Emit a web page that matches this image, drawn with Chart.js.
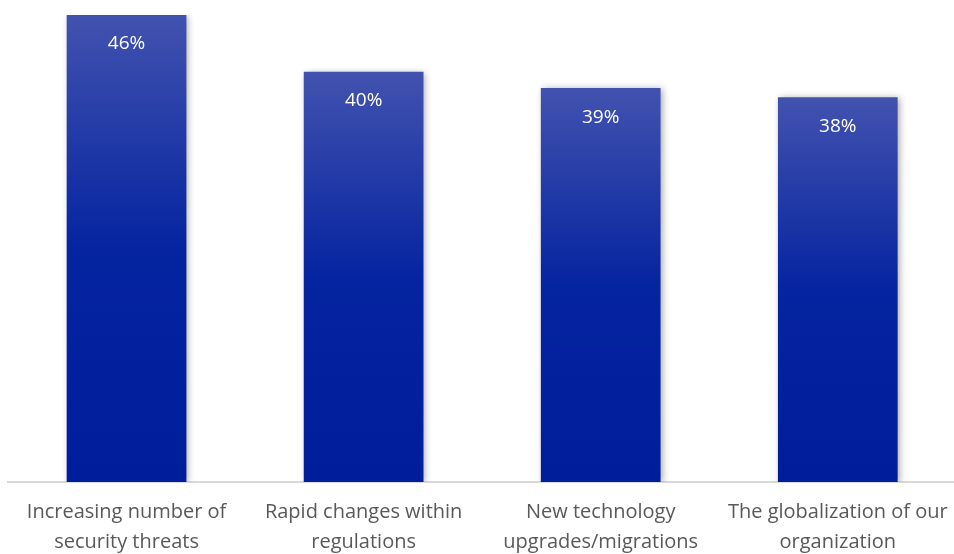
<!DOCTYPE html>
<html>
<head>
<meta charset="utf-8">
<script src="https://cdn.jsdelivr.net/npm/chart.js@4/dist/chart.umd.min.js"></script>
<style>
  html, body { margin: 0; padding: 0; background: #fff; overflow: hidden; }
  .wrap { width: 963px; height: 572px; }
</style>
</head>
<body>
<div class="wrap"><canvas id="chart"></canvas></div>
<script>
const categories = [
  ["Increasing number of", "security threats"],
  ["Rapid changes within", "regulations"],
  ["New technology", "upgrades/migrations"],
  ["The globalization of our", "organization"]
];
const values = [46, 40.4, 38.8, 37.9];
const valueLabels = ["46%", "40%", "39%", "38%"];

// gradient per bar, lighter at the top
function barGradient(context) {
  const chart = context.chart;
  const y = chart.scales.y;
  if (!y || !chart.chartArea) return "#0a22a0";
  const top = y.getPixelForValue(values[context.dataIndex]);
  const bottom = y.getPixelForValue(0);
  const g = chart.ctx.createLinearGradient(0, top, 0, bottom);
  g.addColorStop(0, "#4252af");
  g.addColorStop(0.5, "#0524a0");
  g.addColorStop(1, "#001d9b");
  return g;
}

const barShadow = {
  id: "barShadow",
  beforeDatasetsDraw(chart) {
    const ctx = chart.ctx;
    ctx.save();
    ctx.shadowColor = "rgba(0,0,0,0.35)";
    ctx.shadowBlur = 7;
    ctx.shadowOffsetX = 2;
    ctx.shadowOffsetY = 1;
  },
  afterDatasetsDraw(chart) {
    chart.ctx.restore();
    const ctx = chart.ctx;
    const meta = chart.getDatasetMeta(0);
    ctx.save();
    ctx.fillStyle = "#ffffff";
    ctx.font = "19px 'Open Sans', sans-serif";
    ctx.textAlign = "center";
    ctx.textBaseline = "middle";
    meta.data.forEach((bar, i) => {
      ctx.fillText(valueLabels[i], bar.x, bar.y + 29);
    });
    ctx.restore();
  }
};

new Chart(document.getElementById("chart"), {
  type: "bar",
  data: {
    labels: categories,
    datasets: [{
      data: values,
      backgroundColor: barGradient,
      borderWidth: 0,
      barPercentage: 1,
      categoryPercentage: 0.505
    }]
  },
  options: {
    responsive: true,
    maintainAspectRatio: false,
    animation: false,
    layout: { padding: { top: 15, left: 8, right: 3, bottom: 0 } },
    plugins: { legend: { display: false }, tooltip: { enabled: false } },
    scales: {
      y: { display: false, min: 0, max: 46 },
      x: {
        grid: { display: false, drawTicks: false },
        border: { color: "#d9d9d9", width: 2 },
        ticks: {
          color: "#595959",
          font: { family: "'Open Sans', sans-serif", size: 20, lineHeight: 1.5 },
          padding: 15,
          maxRotation: 0,
          autoSkip: false
        }
      }
    }
  },
  plugins: [barShadow]
});
</script>
</body>
</html>
